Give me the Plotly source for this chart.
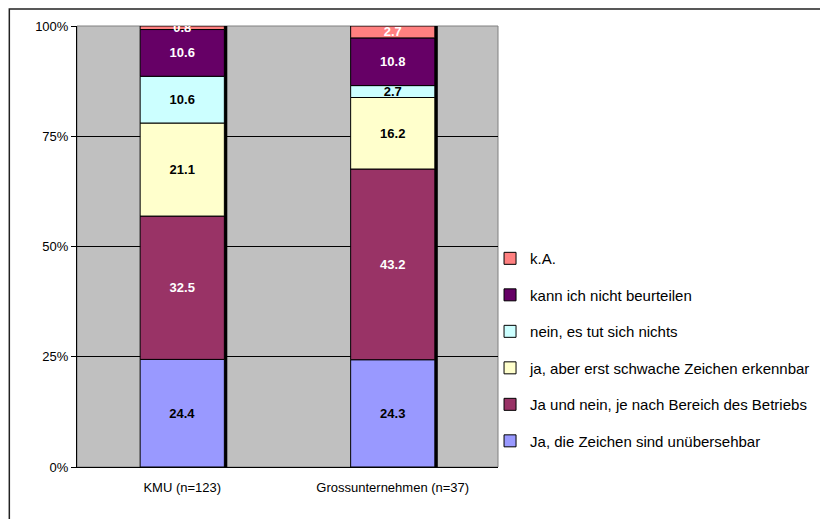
import plotly.graph_objects as go

categories = ["KMU (n=123)", "Grossunternehmen (n=37)"]
series_names = [
    "Ja, die Zeichen sind unübersehbar",
    "Ja und nein, je nach Bereich des Betriebs",
    "ja, aber erst schwache Zeichen erkennbar",
    "nein, es tut sich nichts",
    "kann ich nicht beurteilen",
    "k.A.",
]
kmu_values = [24.4, 32.5, 21.1, 10.6, 10.6, 0.8]
gross_values = [24.3, 43.2, 16.2, 2.7, 10.8, 2.7]
colors = ["#9999FF", "#993366", "#FFFFCC", "#CCFFFF", "#660066", "#FF8080"]
text_colors = ["black", "white", "black", "black", "white", "white"]
y_ticks = [0, 25, 50, 75, 100]
y_tick_labels = ["0%", "25%", "50%", "75%", "100%"]

values_by_cat = [kmu_values, gross_values]
totals = [sum(v) for v in values_by_cat]
pct = [[v / t * 100 for v in vals] for vals, t in zip(values_by_cat, totals)]

fig = go.Figure()

BAR_W = 0.4
# shadow bars
fig.add_trace(go.Bar(
    x=categories, y=[100, 100], base=[0, 0],
    width=BAR_W, offset=-BAR_W / 2 + 0.014,
    marker=dict(color="black", line=dict(width=0)),
    showlegend=False, hoverinfo="skip",
))

n = len(series_names)
for i, name in enumerate(series_names):
    ys = [pct[c][i] for c in range(2)]
    bases = [sum(pct[c][:i]) for c in range(2)]
    labels = [f"{values_by_cat[c][i]:.1f}" for c in range(2)]
    fig.add_trace(go.Bar(
        x=categories, y=ys, base=bases, name=name,
        width=BAR_W, offset=-BAR_W / 2,
        marker=dict(color=colors[i], line=dict(color="black", width=1)),
        text=labels, textposition="inside", insidetextanchor="middle",
        textangle=0,
        textfont=dict(family="Liberation Sans, Arial", size=13,
                      color=text_colors[i], weight="bold"),
        legendgroup=name, legendrank=n - i,
    ))

PW, PH = 423, 441
fig.update_layout(
    barmode="overlay",
    width=820, height=511,
    margin=dict(l=69, r=328, t=18, b=52),
    paper_bgcolor="white",
    plot_bgcolor="#C0C0C0",
    font=dict(family="Liberation Sans, Arial", size=13, color="black"),
    uniformtext=dict(minsize=13, mode="show"),
    showlegend=True,
    legend=dict(
        x=1 - 8 / PW, xanchor="left", y=0.51, yanchor="top",
        traceorder="grouped", tracegroupgap=14,
        font=dict(family="Liberation Sans, Arial", size=15, color="black"),
        itemwidth=30, bgcolor="rgba(0,0,0,0)",
    ),
)
fig.update_xaxes(
    showgrid=False, showline=True, linecolor="black", linewidth=1,
    ticks="", tickfont=dict(size=13), ticklabelstandoff=8, fixedrange=True,
)
fig.update_yaxes(
    range=[0, 100], tickvals=y_ticks, ticktext=y_tick_labels,
    showgrid=True, gridcolor="black", gridwidth=1,
    showline=True, linecolor="black", linewidth=1,
    ticks="outside", ticklen=5, tickcolor="black",
    tickfont=dict(size=13), zeroline=False,
)
# plot-area border (top/right grey)
fig.add_shape(type="rect", xref="paper", yref="paper", x0=0, y0=0, x1=1, y1=1,
              line=dict(color="#808080", width=1), layer="below")
# outer chart border
fig.add_shape(type="rect", xref="paper", yref="paper",
              x0=-68 / PW, y0=-0.3, x1=1.9, y1=1 + 17 / PH,
              line=dict(color="#222222", width=1.5))

fig.write_html("out.html")
